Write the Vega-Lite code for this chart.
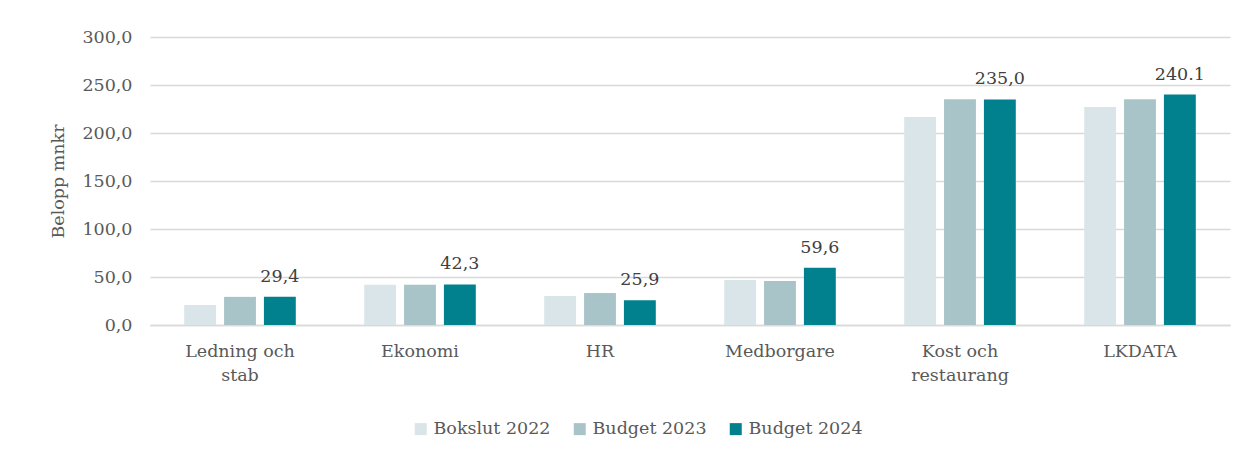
{
  "$schema": "https://vega.github.io/schema/vega-lite/v6.json",
  "width": 1080,
  "height": 288,
  "autosize": {"type": "none"},
  "padding": {"left": 150, "top": 37, "right": 18, "bottom": 130},
  "background": "white",
  "config": {
    "font": "DejaVu Serif",
    "view": {"stroke": null},
    "axis": {"labelFont": "DejaVu Serif", "titleFont": "DejaVu Serif", "labelColor": "#595959", "titleColor": "#595959", "labelFontSize": 17.5, "titleFontSize": 17.5, "titleFontWeight": "normal"},
    "legend": {"labelFont": "DejaVu Serif", "labelFontSize": 17.5, "labelColor": "#595959"}
  },
  "data": {
    "values": [
      {"kategori": "Ledning och stab", "serie": "Bokslut 2022", "belopp": 20.8},
      {"kategori": "Ledning och stab", "serie": "Budget 2023", "belopp": 29.3},
      {"kategori": "Ledning och stab", "serie": "Budget 2024", "belopp": 29.4, "etikett": "29,4"},
      {"kategori": "Ekonomi", "serie": "Bokslut 2022", "belopp": 41.8},
      {"kategori": "Ekonomi", "serie": "Budget 2023", "belopp": 41.9},
      {"kategori": "Ekonomi", "serie": "Budget 2024", "belopp": 42.3, "etikett": "42,3"},
      {"kategori": "HR", "serie": "Bokslut 2022", "belopp": 30.2},
      {"kategori": "HR", "serie": "Budget 2023", "belopp": 33.3},
      {"kategori": "HR", "serie": "Budget 2024", "belopp": 25.9, "etikett": "25,9"},
      {"kategori": "Medborgare", "serie": "Bokslut 2022", "belopp": 46.9},
      {"kategori": "Medborgare", "serie": "Budget 2023", "belopp": 45.8},
      {"kategori": "Medborgare", "serie": "Budget 2024", "belopp": 59.6, "etikett": "59,6"},
      {"kategori": "Kost och restaurang", "serie": "Bokslut 2022", "belopp": 216.7},
      {"kategori": "Kost och restaurang", "serie": "Budget 2023", "belopp": 235.2},
      {"kategori": "Kost och restaurang", "serie": "Budget 2024", "belopp": 235.0, "etikett": "235,0"},
      {"kategori": "LKDATA", "serie": "Bokslut 2022", "belopp": 227.0},
      {"kategori": "LKDATA", "serie": "Budget 2023", "belopp": 235.2},
      {"kategori": "LKDATA", "serie": "Budget 2024", "belopp": 240.1, "etikett": "240.1"}
    ]
  },
  "encoding": {
    "x": {
      "field": "kategori",
      "type": "nominal",
      "sort": null,
      "scale": {"paddingInner": 0.38, "paddingOuter": 0.19},
      "axis": {
        "title": null,
        "labelAngle": 0,
        "ticks": false,
        "domain": true,
        "domainColor": "#D9D9D9",
        "domainWidth": 1.5,
        "labelPadding": 17,
        "labelBaseline": "top",
        "labelLineHeight": 24,
        "labelOverlap": false,
        "labelExpr": "datum.label == 'Ledning och stab' ? ['Ledning och', 'stab'] : datum.label == 'Kost och restaurang' ? ['Kost och', 'restaurang'] : datum.label"
      }
    },
    "xOffset": {
      "field": "serie",
      "type": "nominal",
      "scale": {"paddingInner": 0.2, "paddingOuter": 0}
    },
    "y": {
      "field": "belopp",
      "type": "quantitative",
      "scale": {"domain": [0, 300]},
      "axis": {
        "title": "Belopp mnkr",
        "values": [0, 50, 100, 150, 200, 250, 300],
        "labelOverlap": false,
        "domain": false,
        "ticks": false,
        "gridColor": "#D9D9D9",
        "gridWidth": 1.5,
        "labelPadding": 18,
        "titleX": -83,
        "labelExpr": "replace(format(datum.value, '.1f'), '.', ',')"
      }
    }
  },
  "layer": [
    {
      "mark": {"type": "bar"},
      "encoding": {
        "color": {
          "field": "serie",
          "type": "nominal",
          "scale": {"domain": ["Bokslut 2022", "Budget 2023", "Budget 2024"], "range": ["#DAE5E9", "#A8C4C9", "#00818D"]},
          "legend": {
            "title": null,
            "orient": "none",
            "direction": "horizontal",
            "legendX": 262,
            "legendY": 383,
            "symbolType": "square",
            "symbolSize": 144,
            "symbolStrokeWidth": 0,
            "labelOffset": 4,
            "columnPadding": 20
          }
        }
      }
    },
    {
      "transform": [{"filter": "isValid(datum.etikett)"}],
      "mark": {"type": "text", "baseline": "alphabetic", "dy": -15, "fontSize": 17.5, "color": "#404040"},
      "encoding": {"text": {"field": "etikett"}}
    }
  ]
}
